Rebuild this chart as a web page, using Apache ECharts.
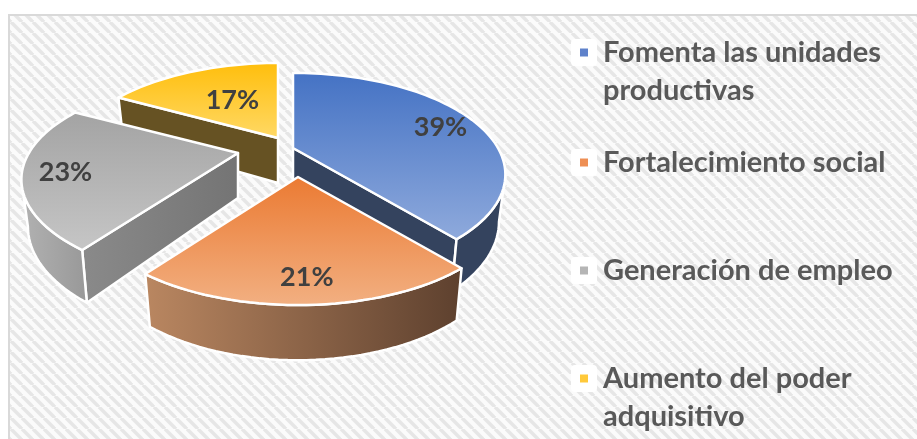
<!DOCTYPE html>
<html><head><meta charset="utf-8">
<style>html,body{margin:0;padding:0;background:#fff}#c{width:917px;height:439px}</style>
<script src="https://cdn.jsdelivr.net/npm/echarts@6/dist/echarts.min.js"></script>
</head><body><div id="c"></div>
<script>
const categories = ['Fomenta las unidades productivas','Fortalecimiento social','Generación de empleo','Aumento del poder adquisitivo'];
const legendLines = [['Fomenta las unidades','productivas'],['Fortalecimiento social'],['Generación de empleo'],['Aumento del poder','adquisitivo']];
const shares = [39, 21, 23, 17];

// Style and layout (not data)
const legendColors = ['#5F82CB','#EE8F54','#B5B5B5','#FFC93A'];
const topColors = [['#4472C4','#8FAADC'],['#EB7A32','#F2B082'],['#A3A3A3','#C6C6C6'],['#FFBE0B','#FFD966']];
const outerWall = [['#34435E','#34435E'],['#BA8761','#5D402E'],['#B2B2B2','#989898'],['#665223','#665223']];
const cutWall = [['#34435E','#34435E'],['#8A5F42','#8A5F42'],['#8A8A8A','#747474'],['#665223','#665223']];
const apex = [[293,148],[298,177],[238,153],[278,138]];
const sliceScale = [1,1,1.02,1];
const labelRadius = [0.82,0.83,0.82,0.52];
const labelOffset = [[0,4],[2,0],[3,2],[3,0]];
const drawOrder = [1,3,2,0];
const A = 205, B = 94.6, K = 0.261, DEPTH = 45, BOT_X = 0.97, BOT_Y = 1.08, LINE = 2.5;

const total = shares.reduce((a,b)=>a+b,0);
const silhouette = Math.acos(-K);
function project(i,theta,r,bottom){
  const ax=apex[i], c=Math.cos(theta), s=Math.sin(theta), p=1/(1+K*c*r);
  const x=A*sliceScale[i]*s*r*p, y=-B*c*r*p;
  return bottom ? [ax[0]+x*BOT_X, ax[1]+DEPTH+y*BOT_Y] : [ax[0]+x, ax[1]+y];
}
function arc(i,t0,t1,bottom){
  const n=Math.max(8,Math.ceil((t1-t0)*90/Math.PI)), pts=[];
  for(let k=0;k<=n;k++) pts.push(project(i,t0+(t1-t0)*k/n,1,bottom));
  return pts;
}
const grad=(c,h)=>({type:'linear',x:0,y:0,x2:h?1:0,y2:h?0:1,colorStops:[{offset:0,color:c[0]},{offset:1,color:c[1]}]});
function poly(points,fill){
  return {type:'polygon',shape:{points},style:{fill,stroke:'#fff',lineWidth:LINE,lineJoin:'round'}};
}
function sliceRender(i){
  return function(params,api){
    const v=api.value(0);
    let before=0; for(let j=0;j<i;j++) before+=shares[j];
    const t0=before/total*2*Math.PI, t1=t0+v/total*2*Math.PI;
    const a=project(i,0,0,false), ab=project(i,0,0,true);
    const children=[];
    // only the faces turned toward the viewer
    if(Math.sin(t0)<-1e-6) children.push(poly([a,project(i,t0,1,false),project(i,t0,1,true),ab],grad(cutWall[i],true)));
    if(Math.sin(t1)>1e-6) children.push(poly([a,project(i,t1,1,false),project(i,t1,1,true),ab],grad(cutWall[i],true)));
    const w0=Math.max(t0,silhouette), w1=Math.min(t1,2*Math.PI-silhouette);
    if(w1>w0) children.push(poly(arc(i,w0,w1,false).concat(arc(i,w0,w1,true).reverse()),grad(outerWall[i],true)));
    children.push(poly([a].concat(arc(i,t0,t1,false)),grad(topColors[i],false)));
    const lp=project(i,(t0+t1)/2,labelRadius[i],false);
    children.push({type:'text',style:{text:v+'%',x:lp[0]+labelOffset[i][0],y:lp[1]+labelOffset[i][1],align:'center',verticalAlign:'middle',
      font:'bold 27px Lato',fill:'#404040'}});
    return {type:'group',children};
  };
}
const series=categories.map((name,i)=>({
  name,type:'custom',coordinateSystem:'none',silent:true,
  z:5+drawOrder[i],itemStyle:{color:legendColors[i]},
  data:[[shares[i]]],renderItem:sliceRender(i)
}));

function tile(){
  const n=11,c=document.createElement('canvas');c.width=n;c.height=n;
  const g=c.getContext('2d');g.fillStyle='#FBFBFB';g.fillRect(0,0,n,n);
  g.strokeStyle='#E6E6E6';g.lineWidth=3.5;
  for(let o=-n;o<=2*n;o+=n){g.beginPath();g.moveTo(o,0);g.lineTo(o+n,n);g.stroke();}
  return c;
}
const boxTop=[39,149,257,365];
const LH=38;
const legends=categories.map((name,i)=>({
  data:[name],orient:'vertical',padding:0,left:580,top:boxTop[i]+13.5-(legendLines[i].length>1?1.5*LH:0.5*LH),
  icon:'rect',itemWidth:8,itemHeight:8,itemGap:0,selectedMode:false,
  formatter:()=>legendLines[i].length>1?'\n'+legendLines[i].join('\n'):legendLines[i][0],
  textStyle:{fontFamily:'Lato',fontWeight:'bold',fontSize:29,color:'#595959',lineHeight:LH,padding:[0,0,0,10]}
}));
const chart=echarts.init(document.getElementById('c'),null,{renderer:'canvas'});
chart.setOption({
  animation:false,backgroundColor:'#fff',
  graphic:[
    {type:'rect',z:0,silent:true,shape:{x:8,y:14,width:909,height:425},style:{fill:{image:tile(),repeat:'repeat'}}},
    {type:'rect',z:1,silent:true,shape:{x:8,y:14,width:909,height:2},style:{fill:'#D9D9D9'}},
    {type:'rect',z:1,silent:true,shape:{x:8,y:14,width:2,height:425},style:{fill:'#D9D9D9'}},
    ...boxTop.map(t=>({type:'rect',z:1,silent:true,shape:{x:571,y:t,width:26,height:27,r:4},style:{fill:'#fff'}}))
  ],
  legend:legends,
  series
});
</script></body></html>
